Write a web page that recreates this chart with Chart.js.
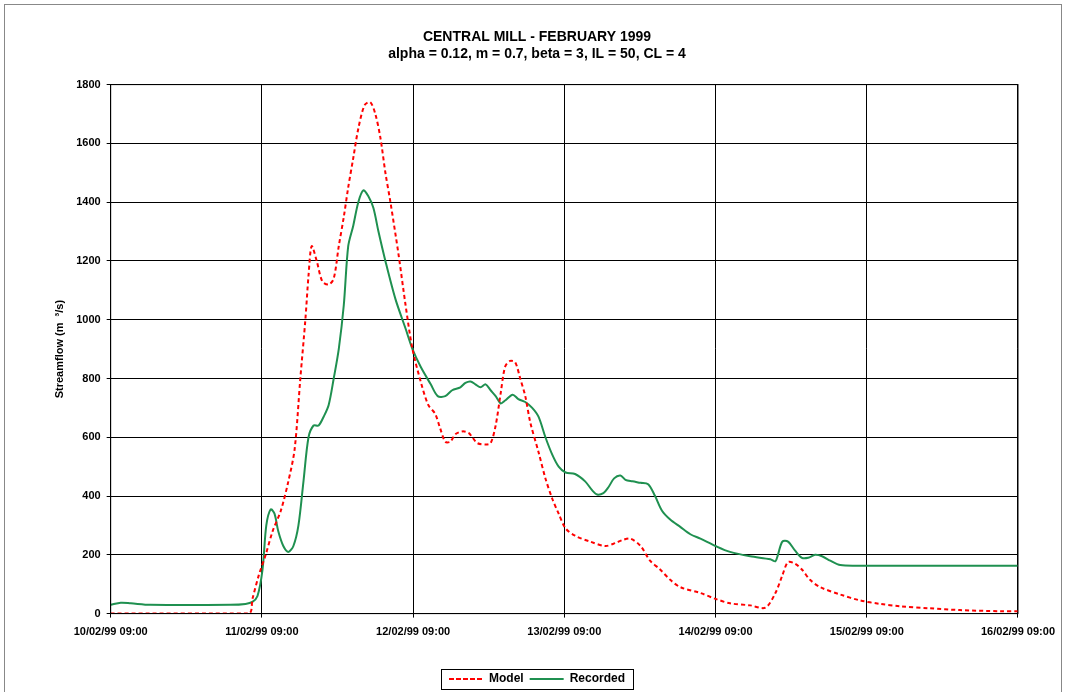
<!DOCTYPE html>
<html><head><meta charset="utf-8">
<script src="https://cdn.jsdelivr.net/npm/chart.js@4"></script>
<style>
html,body{margin:0;padding:0;background:#fff;}
#wrap{position:absolute;left:4px;top:4px;width:1058px;height:690px;border:1px solid #888;box-sizing:border-box;}
canvas{display:block;}
</style></head><body>
<div id="wrap"><canvas id="c" width="1058" height="690"></canvas></div>
<script>
const xTickLabels = ["10/02/99 09:00","11/02/99 09:00","12/02/99 09:00","13/02/99 09:00","14/02/99 09:00","15/02/99 09:00","16/02/99 09:00"];
const recHours = [0,1.6,3.2,6.3,19,21.4,22.5,23.3,24.1,24.7,25.4,26,26.6,27.4,28.2,29,29.8,30.6,31.4,32.2,33,33.8,34.6,35.4,36.2,37,37.7,38.5,39.3,40.1,40.9,41.7,42.5,43.6,45.2,46.8,47.9,49.2,50.8,51.9,53.1,54.2,55.5,56.3,57.1,57.9,58.7,59.5,60.3,61.1,61.9,62.6,63.8,64.7,65.8,66.9,67.9,69,70.1,71.1,72.2,73.7,75.3,76.4,77.2,78.2,79,79.9,80.9,81.7,82.8,84.1,85.3,86.4,87.5,88.8,90.4,92,93.6,96,98.3,101.5,104.7,105.5,105.9,106.6,107.5,108.6,109.7,110.7,111.8,112.9,114.2,115.8,118.9,144];
const recFlow = [30,37,35,30,30,33,40,60,150,300,355,340,280,230,210,230,300,450,600,640,640,670,710,800,900,1050,1250,1320,1400,1440,1420,1380,1300,1200,1070,970,900,840,780,740,740,760,770,785,790,780,770,780,760,740,715,725,745,730,720,700,670,600,540,500,480,475,450,420,405,410,430,460,470,455,450,445,440,400,350,320,295,270,255,230,210,195,185,178,200,245,245,215,190,190,200,195,180,165,163,163];
const modHours = [0,21.9,22.5,23.5,24.6,25.7,27,28.2,29.2,30.1,30.9,31.4,31.9,32.7,33.6,34.6,35.4,36.2,37,37.7,38.5,39.3,40.3,41.2,42,42.8,43.6,44.4,45.7,46.8,47.9,49.2,50.4,51.5,52.3,53.1,53.9,54.7,55.8,56.8,57.4,58.2,59.5,60.3,61.1,61.9,62.6,63.4,64.2,65,65.8,66.6,67.9,69,70.1,71.1,72.2,73.7,76.1,78.5,80.1,81.2,82.5,84.1,85.6,87.2,88.8,90.4,93.6,96,98.3,101.5,103.9,105.5,106.6,107.5,108.6,109.7,111,112.6,115.8,118.9,122.1,125.3,130,134.8,141.2,144];
const modFlow = [0,0,50,130,200,280,350,450,560,800,1000,1150,1250,1200,1130,1120,1140,1250,1350,1450,1550,1650,1730,1740,1700,1620,1500,1400,1220,1050,900,790,710,680,630,585,585,610,620,615,600,580,575,580,640,750,840,860,855,800,740,650,550,460,390,340,290,265,245,230,240,250,255,230,180,150,115,90,70,50,35,28,20,70,130,175,170,150,115,90,65,45,33,25,18,12,8,8];

const pts=(xs,ys)=>xs.map((x,i)=>({x:x,y:ys[i]}));
const legendBox={id:'legendBox',afterDraw(ch){const l=ch.legend;if(!l||!l.legendHitBoxes.length)return;const hb=l.legendHitBoxes;
let x0=Math.min(...hb.map(b=>b.left))-8,x1=Math.max(...hb.map(b=>b.left+b.width))+8,y0=Math.min(...hb.map(b=>b.top))-4,y1=Math.max(...hb.map(b=>b.top+b.height))+4;
const c=ch.ctx;c.save();c.strokeStyle='#000';c.lineWidth=1;c.strokeRect(Math.round(x0)+0.5,Math.round(y0)+0.5,Math.round(x1-x0),Math.round(y1-y0));c.restore();}};
const frame={id:'frame',afterDraw(ch){const a=ch.chartArea,c=ch.ctx;c.save();c.strokeStyle='#000';c.lineWidth=1;c.strokeRect(a.left,a.top,a.right-a.left,a.bottom-a.top);c.restore();}};
new Chart(document.getElementById('c'),{
type:'line',
data:{datasets:[
{label:'Model',data:pts(modHours,modFlow),borderColor:'#ff0000',borderWidth:2,borderDash:[4,3],pointRadius:0,tension:0.3,fill:false},
{label:'Recorded',data:pts(recHours,recFlow),borderColor:'#1f9050',borderWidth:2,pointRadius:0,tension:0.3,fill:false}
]},
options:{responsive:false,animation:false,
layout:{padding:{left:44,right:38,top:12,bottom:0}},
plugins:{
title:{display:true,text:['CENTRAL MILL - FEBRUARY 1999','alpha = 0.12, m = 0.7, beta = 3, IL = 50, CL = 4'],color:'#000',font:{family:'Arial, Liberation Sans',size:14,weight:'bold'},padding:{top:12,bottom:22},lineHeight:1.4},
legend:{position:'bottom',align:'center',labels:{color:'#000',font:{family:'Arial, Liberation Sans',size:12,weight:'bold'},boxWidth:34,boxHeight:0,padding:6}},
tooltip:{enabled:false}
},
scales:{
x:{type:'linear',min:0,max:144,
 ticks:{stepSize:24,color:'#000',font:{family:'Arial, Liberation Sans',size:11,weight:'bold'},maxRotation:0,padding:8,callback:(v)=>xTickLabels[Math.round(v/24)]},
 title:{display:true,text:' ',font:{size:11},padding:{top:0,bottom:7}},
 grid:{color:'#000',lineWidth:1,tickLength:4},border:{color:'#000'}},
y:{min:0,max:1800,
 ticks:{stepSize:200,color:'#000',font:{family:'Arial, Liberation Sans',size:11,weight:'bold'},padding:6,callback:(v)=>String(v)},
 grid:{color:'#000',lineWidth:1,tickLength:4},border:{color:'#000'},
 title:{display:true,text:'Streamflow (m  ³/s)',color:'#000',font:{family:'Arial, Liberation Sans',size:11,weight:'bold'}}}
}},
plugins:[legendBox,frame]
});
</script></body></html>
